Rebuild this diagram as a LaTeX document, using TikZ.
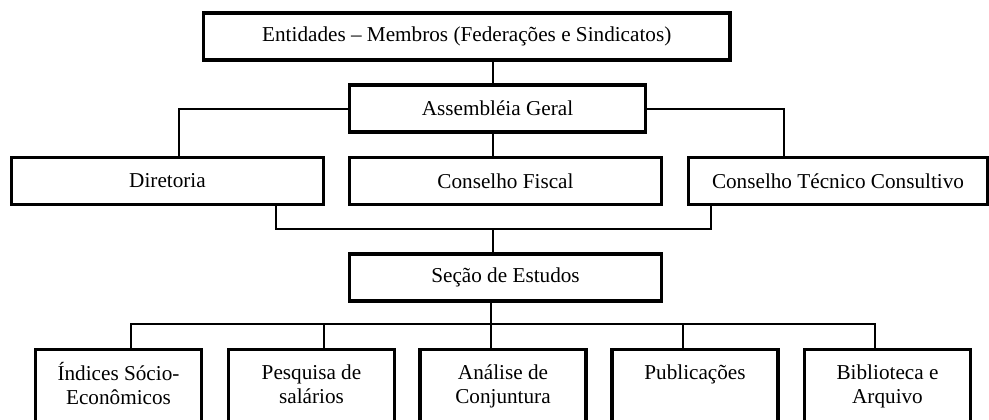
\documentclass[tikz,border=0pt]{standalone}
\usepackage{fontspec}
\setmainfont{Liberation Serif}
\usetikzlibrary{calc}
\tikzset{
	block/.style = {draw, line width=1.6pt, rectangle, minimum height=23.5pt,
		inner sep=2pt},
	wide/.style  = {block, minimum width=156pt},
	leaf/.style  = {draw, line width=1.6pt, rectangle, anchor=north,
		minimum width=83pt, inner xsep=2pt, inner ysep=6.35pt},
	link/.style  = {line width=1pt}
}
\newcommand{\leaftext}[1]{\parbox[c][30pt][t]{78pt}{\centering\strut #1}}

\begin{document}
\begin{tikzpicture}[x=0.5pt, y=-0.5pt, font=\fontsize{10.6}{12}\selectfont]

	\clip (0,0) rectangle (989,419);

	\draw
	% upper levels
	node at (466.75,36.5) [block, minimum width=263.25pt] (ent) {Entidades – Membros (Federações e Sindicatos)}
	node at (497.5,108.5) [block, minimum width=148pt] (asm) {Assembléia Geral}
	node at (167.5,181) [wide] (dir) {Diretoria}
	node at (505.5,181) [wide] (fis) {Conselho Fiscal}
	node at (838,181) [block, minimum width=149.5pt] (ctc) {Conselho Técnico Consultivo}
	node at (505.5,277.5) [wide] (sec) {Seção de Estudos}
	% lower level
	node at (118.5,348) [leaf] (b1) {\leaftext{Índices Sócio-\\Econômicos}}
	node at (311.5,348) [leaf] (b2) {\leaftext{Pesquisa de\\salários}}
	node at (503,348) [leaf] (b3) {\leaftext{Análise de\\Conjuntura}}
	node at (695,348) [leaf] (b4) {\leaftext{Publicações}}
	node at (887.5,348) [leaf] (b5) {\leaftext{Biblioteca e\\Arquivo}};

	\coordinate (spine) at (493,0);
	\coordinate (join) at (493,229);
	\coordinate (hub) at (491,324);

	\draw[link](ent.south -| spine) -- (asm.north -| spine);
	\draw[link](asm.west) -| ([xshift=5.75pt]dir.north);
	\draw[link](asm.east) -| ([xshift=-27pt]ctc.north);
	\draw[link](asm.south -| spine) -- (fis.north -| spine);
	\draw[link]([xshift=54.25pt]dir.south) |- (join) -| ([xshift=-63.5pt]ctc.south);
	\draw[link](join) -- (sec.north -| join);
	\draw[link](sec.south -| hub) -- (hub);
	\draw[link]([xshift=6pt]b1.north) |- (hub) -| ([xshift=-6.25pt]b5.north);
	\draw[link]([xshift=6pt]b2.north) -- ([xshift=6pt]b2.north |- hub);
	\draw[link]([xshift=-6pt]b3.north) -- ([xshift=-6pt]b3.north |- hub);
	\draw[link]([xshift=-6pt]b4.north) -- ([xshift=-6pt]b4.north |- hub);

\end{tikzpicture}
\end{document}
